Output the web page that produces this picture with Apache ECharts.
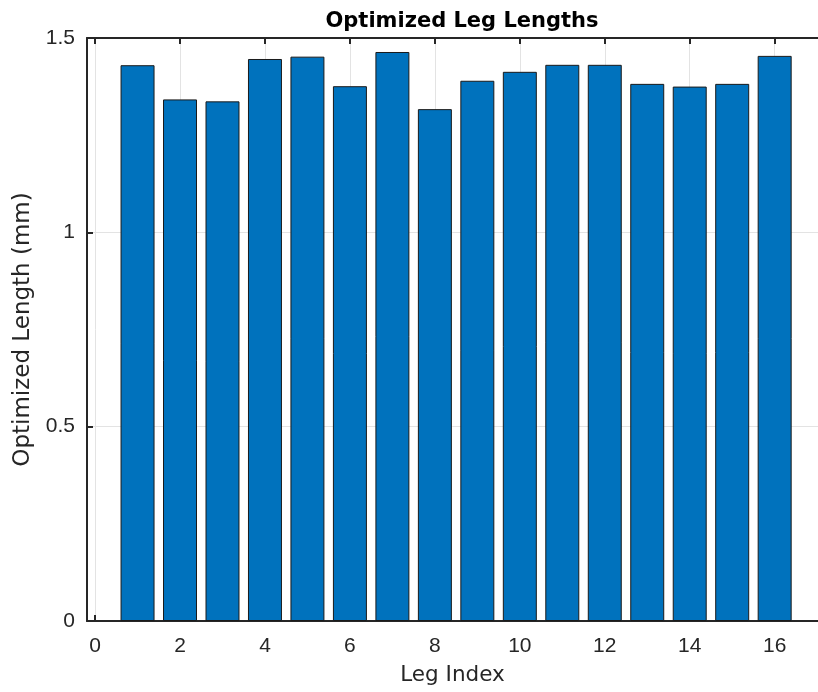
<!DOCTYPE html>
<html>
<head>
<meta charset="utf-8">
<script src="https://cdn.jsdelivr.net/npm/echarts@6/dist/echarts.min.js"></script>
<style>html,body{margin:0;padding:0;background:#fff}#c{width:818px;height:692px}</style>
</head>
<body>
<div id="c"></div>
<script>
const legIndex = [1,2,3,4,5,6,7,8,9,10,11,12,13,14,15,16];
const lengths = [1.430,1.342,1.337,1.446,1.452,1.376,1.464,1.317,1.390,1.413,1.431,1.431,1.382,1.375,1.382,1.454];
const xTicks = [0,2,4,6,8,10,12,14,16];

const xMin = -0.19, xMax = 17.02;
const gridLeft = 87, gridRight = 0;
const plotW = 818 - gridLeft - gridRight;
const barPx = plotW / (xMax - xMin) * 0.8;
const axisColor = '#262626';
const font = 'Liberation Sans, Arial, Helvetica, sans-serif';
const nameFont = 'DejaVu Sans, Liberation Sans, sans-serif';

const chart = echarts.init(document.getElementById('c'), null, {renderer: 'canvas'});
chart.setOption({
  animation: false,
  backgroundColor: '#fff',
  title: {
    text: 'Optimized Leg Lengths',
    left: 457, top: 6, textAlign: 'center',
    textStyle: {fontFamily: nameFont, fontWeight: 'bold', fontSize: 21, color: '#000'}
  },
  grid: {left: gridLeft, right: gridRight, top: 38, bottom: 71, containLabel: false},
  xAxis: [{
    type: 'value', min: xMin, max: xMax, position: 'bottom',
    name: 'Leg Index', nameLocation: 'middle', nameGap: 43,
    nameTextStyle: {fontFamily: nameFont, fontSize: 21.5, color: axisColor},
    axisLine: {show: true, onZero: false, lineStyle: {color: axisColor, width: 2}},
    axisTick: {show: true, inside: true, length: 6, customValues: xTicks, lineStyle: {color: axisColor, width: 2}},
    axisLabel: {customValues: xTicks, margin: 15, fontFamily: font, fontSize: 21, color: axisColor},
    splitLine: {show: true, lineStyle: {color: '#e3e3e3', width: 1}}
  }, {
    type: 'value', min: xMin, max: xMax, position: 'top',
    axisLine: {show: true, onZero: false, lineStyle: {color: axisColor, width: 2}},
    axisTick: {show: true, inside: true, length: 6, customValues: xTicks, lineStyle: {color: axisColor, width: 2}},
    axisLabel: {show: false},
    splitLine: {show: false}
  }],
  yAxis: {
    type: 'value', min: 0, max: 1.5, interval: 0.5,
    name: 'Optimized Length (mm)', nameLocation: 'middle', nameGap: 51,
    nameTextStyle: {fontFamily: nameFont, fontSize: 23, color: axisColor},
    axisLine: {show: true, onZero: false, lineStyle: {color: axisColor, width: 2}},
    axisTick: {show: true, inside: true, length: 6, lineStyle: {color: axisColor, width: 2}},
    axisLabel: {margin: 12, fontFamily: font, fontSize: 21, color: axisColor,
      formatter: v => String(v)},
    splitLine: {show: true, lineStyle: {color: '#e3e3e3', width: 1}}
  },
  series: [{
    type: 'bar', xAxisIndex: 0,
    data: legIndex.map((x, i) => [x, lengths[i]]),
    barWidth: barPx,
    itemStyle: {color: '#0072BD', borderColor: '#1a1a1a', borderWidth: 1}
  }]
});
</script>
</body>
</html>
